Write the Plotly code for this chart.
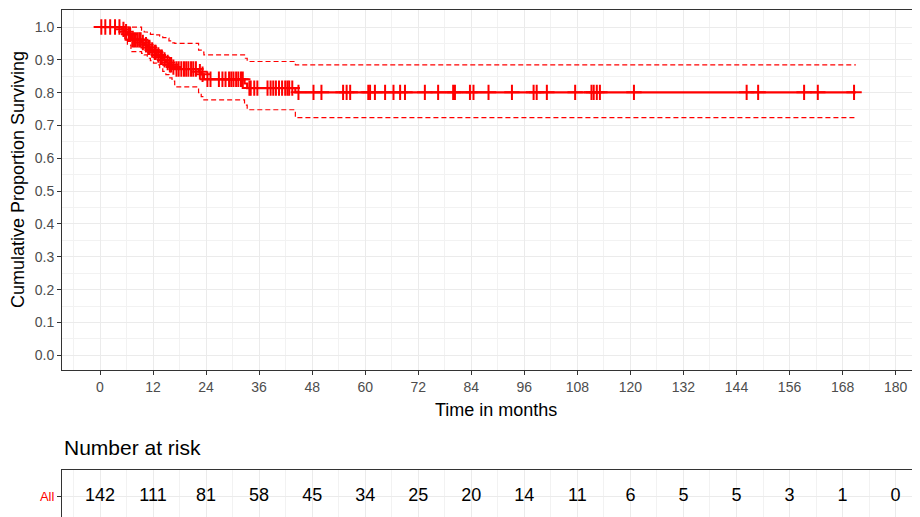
import numpy as np
import plotly.graph_objects as go

# ---------------- data ----------------
event_times = [0, 5.0, 5.6, 6.2, 7.0, 9.4, 10.0, 10.7, 11.4, 12.1, 12.8, 13.5, 14.2,
               14.9, 15.6, 16.3, 16.9, 22.3, 22.9, 23.5, 32.7, 33.3, 44.2]
surv = [1.0, 0.993, 0.986, 0.978, 0.961, 0.953, 0.946, 0.938, 0.930, 0.923, 0.915,
        0.908, 0.900, 0.892, 0.885, 0.878, 0.872, 0.864, 0.856, 0.841, 0.828, 0.814, 0.801]
upper = [1.0, 1.0, 1.0, 1.0, 1.0, 0.990, 0.985, 0.982, 0.978, 0.976, 0.976, 0.972,
         0.968, 0.966, 0.958, 0.952, 0.950, 0.930, 0.924, 0.915, 0.905, 0.895, 0.885]
lower = [1.0, 0.975, 0.962, 0.945, 0.925, 0.920, 0.915, 0.905, 0.898, 0.890, 0.885,
         0.876, 0.865, 0.855, 0.845, 0.835, 0.818, 0.800, 0.788, 0.778, 0.762, 0.748, 0.724]
end_time = 171.0

censor_times = [0.3, 1.2, 2.3, 3.4, 4.4,
                5.3, 5.9, 6.5, 6.8, 7.3, 7.7, 8.1, 8.5, 8.9, 9.2, 9.7, 10.4, 10.9, 11.2,
                11.8, 12.4, 12.6, 13.2, 13.7, 14.0, 14.6, 15.3, 15.8, 16.1, 16.6,
                17.3, 17.8, 18.4, 19.0, 19.5, 20.0, 20.6, 21.1, 21.7, 22.6, 23.2,
                24.3, 25.0, 26.9, 27.7, 28.4, 29.2, 29.7, 30.2, 30.8, 31.3, 31.9, 32.3,
                33.8, 34.1, 34.9, 35.6, 37.9, 38.6, 39.2, 39.8, 40.5, 41.2, 41.9, 42.4,
                42.8, 43.5,
                44.9, 48.3, 50.1, 55.0, 55.8, 56.6, 60.7, 61.1, 62.2, 64.5, 66.4, 67.9,
                69.0, 73.5, 76.5, 79.9, 80.3, 83.7, 84.5, 87.9, 93.2, 98.1, 98.8, 101.1,
                107.5, 111.2, 111.7, 112.4, 113.1, 120.8, 146.3, 148.9, 159.3, 162.4, 170.6]

risk_times = [0, 12, 24, 36, 48, 60, 72, 84, 96, 108, 120, 132, 144, 156, 168, 180]
n_at_risk = [142, 111, 81, 58, 45, 34, 25, 20, 14, 11, 6, 5, 5, 3, 1, 0]
strata_label = "All"

x_ticks = list(range(0, 181, 12))
y_ticks = [round(0.1 * i, 1) for i in range(11)]

# ---------------- figure ----------------
RED = "#FF0000"
GRID = "#EBEBEB"
GRID_MINOR = "#F2F2F2"
AXLINE = "#333333"
TICKCOL = "#4D4D4D"
FONT = "Liberation Sans, Arial, sans-serif"

OFF = 8                      # page body margin
W, H = 920 - OFF, 517 - OFF
ML, MR, MT, MB = 62 - OFF, 0, 10 - OFF, 0
plot_w = W - ML - MR
plot_h = H - MT - MB
px_per_month = 4.42
x0 = -(100 - 62) / px_per_month
x1 = x0 + plot_w / px_per_month


def py(pix):          # page pixel row -> paper fraction
    return (H - MB - (pix - OFF)) / plot_h


def px(pix):          # page pixel column -> paper fraction
    return (pix - 62) / plot_w


top_dom = [py(370), 1.0]
tab_dom = [0.0, py(470)]

et = list(event_times) + [end_time]
fig = go.Figure()
for vals in (upper, lower):
    fig.add_trace(go.Scatter(x=et, y=list(vals) + [vals[-1]], mode="lines",
                             line=dict(color=RED, width=1.2, dash="5px,3px", shape="hv"),
                             hoverinfo="skip", showlegend=False))
fig.add_trace(go.Scatter(x=et, y=list(surv) + [surv[-1]], mode="lines",
                         line=dict(color=RED, width=2.2, shape="hv"), showlegend=False))

idx = np.searchsorted(np.array(event_times), np.array(censor_times), side="right") - 1
cens_y = np.array(surv)[idx]
fig.add_trace(go.Scatter(x=censor_times, y=cens_y, mode="markers",
                         marker=dict(symbol="cross-thin", size=11, color=RED,
                                     line=dict(color=RED, width=2)),
                         showlegend=False))

# risk table
fig.add_trace(go.Scatter(x=risk_times, y=[0.43] * len(risk_times), mode="text",
                         text=[str(v) for v in n_at_risk],
                         textfont=dict(family=FONT, size=18, color="black"),
                         xaxis="x2", yaxis="y2", showlegend=False))

fig.update_layout(
    width=W, height=H, margin=dict(l=ML, r=MR, t=MT, b=MB),
    paper_bgcolor="white", plot_bgcolor="white",
    font=dict(family=FONT, color="black"),
    xaxis=dict(domain=[0, 1], range=[x0, x1], tickvals=x_ticks, ticks="outside",
               ticklen=4, tickcolor=AXLINE, tickfont=dict(size=14, color=TICKCOL),
               showline=True, mirror=True, linecolor=AXLINE, linewidth=1,
               showgrid=True, gridcolor=GRID, gridwidth=1.1,
               minor=dict(dtick=6, tick0=0, showgrid=True, gridcolor=GRID_MINOR, gridwidth=1),
               zeroline=False, anchor="y"),
    yaxis=dict(domain=top_dom, range=[-0.045, 1.052], tickvals=y_ticks,
               ticktext=[f"{v:.1f}" for v in y_ticks], ticks="outside", ticklen=4,
               tickcolor=AXLINE, tickfont=dict(size=14, color=TICKCOL),
               showline=True, mirror=False, linecolor=AXLINE, linewidth=1,
               showgrid=True, gridcolor=GRID, gridwidth=1.1,
               minor=dict(dtick=0.05, tick0=0, showgrid=True, gridcolor=GRID_MINOR, gridwidth=1),
               zeroline=False, anchor="x"),
    xaxis2=dict(domain=[0, 1], range=[x0, x1], tickvals=x_ticks, showticklabels=False,
                ticks="", side="top", showline=True, mirror=False, linecolor=AXLINE,
                linewidth=1, showgrid=True, gridcolor=GRID, gridwidth=1.1,
                minor=dict(dtick=6, tick0=0, showgrid=True, gridcolor=GRID_MINOR, gridwidth=1),
                zeroline=False, anchor="y2"),
    yaxis2=dict(domain=tab_dom, range=[0, 1], tickvals=[0.43], ticktext=[strata_label],
                ticks="outside", ticklen=4, tickcolor=AXLINE,
                tickfont=dict(size=13, color=RED), showline=True, linecolor=AXLINE,
                linewidth=1, showgrid=True, gridcolor=GRID, zeroline=False, anchor="x2"),
    annotations=[
        dict(text="Cumulative Proportion Surviving", xref="paper", yref="paper",
             x=px(18), y=py(180), textangle=-90, showarrow=False,
             xanchor="center", yanchor="middle", font=dict(size=18, color="black")),
        dict(text="Time in months", xref="paper", yref="paper",
             x=px(496), y=py(410), showarrow=False,
             xanchor="center", yanchor="middle", font=dict(size=18, color="black")),
        dict(text="Number at risk", xref="paper", yref="paper", x=0, y=py(447),
             showarrow=False, xanchor="left", yanchor="middle",
             font=dict(size=21, color="black")),
    ],
)

fig.write_html("out.html")
